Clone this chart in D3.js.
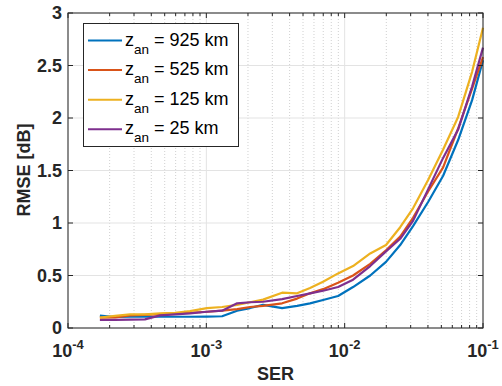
<!DOCTYPE html>
<html>
<head>
<meta charset="utf-8">
<script src="https://cdn.jsdelivr.net/npm/d3@7"></script>
<style>
  html, body { margin: 0; padding: 0; background: #fff; }
  svg { display: block; font-family: "Liberation Sans", Arial, Helvetica, sans-serif; }
</style>
</head>
<body>
<svg id="chart" width="502" height="386"></svg>
<script>
// ---- Data ----
const ser = [1.70e-4, 2.19e-4, 2.81e-4, 3.60e-4, 4.63e-4, 5.94e-4, 7.62e-4, 1.01e-3, 1.30e-3,
             1.67e-3, 2.07e-3, 2.57e-3, 3.53e-3, 4.53e-3, 5.62e-3, 6.98e-3, 8.96e-3, 1.15e-2,
             1.53e-2, 1.99e-2, 2.52e-2, 3.12e-2, 4.01e-2, 5.15e-2, 6.61e-2, 8.34e-2, 1.0e-1];
const rmse925 = [0.117, 0.105, 0.107, 0.107, 0.107, 0.107, 0.107, 0.108, 0.112, 0.165, 0.19, 0.22, 0.19, 0.21,
                 0.235, 0.267, 0.305, 0.39, 0.5, 0.63, 0.79, 0.97, 1.2, 1.45, 1.79, 2.17, 2.55];
const rmse525 = [0.098, 0.1, 0.12, 0.125, 0.133, 0.14, 0.145, 0.155, 0.165, 0.18, 0.2, 0.21, 0.235, 0.28,
                 0.33, 0.37, 0.43, 0.5, 0.61, 0.74, 0.87, 1.05, 1.3, 1.53, 1.9, 2.28, 2.58];
const rmse125 = [0.1, 0.115, 0.13, 0.13, 0.14, 0.145, 0.16, 0.19, 0.2, 0.22, 0.245, 0.27, 0.336, 0.33,
                 0.38, 0.44, 0.52, 0.59, 0.71, 0.79, 0.96, 1.14, 1.41, 1.7, 2.01, 2.44, 2.86];
const rmse25  = [0.076, 0.078, 0.08, 0.082, 0.12, 0.13, 0.14, 0.155, 0.165, 0.235, 0.245, 0.25, 0.275, 0.305,
                 0.33, 0.355, 0.39, 0.46, 0.59, 0.73, 0.85, 1.02, 1.32, 1.62, 1.89, 2.3, 2.67];
const seriesNames = ["925", "525", "125", "25"];
const seriesColors = ["#0072BD", "#D95319", "#EDB120", "#7E2F8E"];
const xTickExps = [-4, -3, -2, -1];
const yTicks = [0, 0.5, 1, 1.5, 2, 2.5, 3];

const allSeries = [rmse925, rmse525, rmse125, rmse25].map((v, i) => ({
  name: seriesNames[i], color: seriesColors[i], values: v.map((y, j) => ({x: ser[j], y}))
}));

// ---- Layout ----
const svg = d3.select("#chart");
const m = {left: 68, right: 483, top: 13, bottom: 328};
const x = d3.scaleLog().domain([1e-4, 1e-1]).range([m.left, m.right]);
const y = d3.scaleLinear().domain([0, 3]).range([m.bottom, m.top]);

// minor grid (x)
const minor = [];
for (let e = -4; e < -1; e++) for (let k = 2; k <= 9; k++) minor.push(k * Math.pow(10, e));
svg.append("g").selectAll("line").data(minor).join("line")
  .attr("x1", d => x(d)).attr("x2", d => x(d))
  .attr("y1", m.top).attr("y2", m.bottom)
  .attr("stroke", "#d0d0d0").attr("stroke-width", 1).attr("stroke-dasharray", "1,2");

// major grid
svg.append("g").selectAll("line").data(xTickExps).join("line")
  .attr("x1", d => x(Math.pow(10, d))).attr("x2", d => x(Math.pow(10, d)))
  .attr("y1", m.top).attr("y2", m.bottom)
  .attr("stroke", "#e3e3e3").attr("stroke-width", 1);
svg.append("g").selectAll("line").data(yTicks).join("line")
  .attr("x1", m.left).attr("x2", m.right)
  .attr("y1", d => y(d)).attr("y2", d => y(d))
  .attr("stroke", "#e3e3e3").attr("stroke-width", 1);

// lines
const line = d3.line().x(d => x(d.x)).y(d => y(d.y));
svg.append("g").selectAll("path").data(allSeries).join("path")
  .attr("d", d => line(d.values))
  .attr("fill", "none").attr("stroke", d => d.color)
  .attr("stroke-width", 2.2).attr("stroke-linejoin", "round");

// axes box
const axisColor = "#262626";
svg.append("rect").attr("x", m.left).attr("y", m.top)
  .attr("width", m.right - m.left).attr("height", m.bottom - m.top)
  .attr("fill", "none").attr("stroke", axisColor).attr("stroke-width", 1);

// ticks (inside, both sides)
const tl = 5, tlMinor = 3;
const tg = svg.append("g").attr("stroke", axisColor).attr("stroke-width", 1);
xTickExps.forEach(e => {
  const px = x(Math.pow(10, e));
  tg.append("line").attr("x1", px).attr("x2", px).attr("y1", m.bottom).attr("y2", m.bottom - tl);
  tg.append("line").attr("x1", px).attr("x2", px).attr("y1", m.top).attr("y2", m.top + tl);
});
minor.forEach(v => {
  const px = x(v);
  tg.append("line").attr("x1", px).attr("x2", px).attr("y1", m.bottom).attr("y2", m.bottom - tlMinor);
  tg.append("line").attr("x1", px).attr("x2", px).attr("y1", m.top).attr("y2", m.top + tlMinor);
});
yTicks.forEach(v => {
  const py = y(v);
  tg.append("line").attr("x1", m.left).attr("x2", m.left + tl).attr("y1", py).attr("y2", py);
  tg.append("line").attr("x1", m.right).attr("x2", m.right - tl).attr("y1", py).attr("y2", py);
});

// y tick labels
svg.append("g").selectAll("text").data(yTicks).join("text")
  .attr("x", m.left - 6).attr("y", d => y(d)).attr("dy", "0.36em")
  .attr("text-anchor", "end").attr("font-size", 18).attr("font-weight", "bold")
  .attr("fill", axisColor).text(d => d3.format("")(d));

// x tick labels 10^e
xTickExps.forEach(e => {
  const t = svg.append("text").attr("x", x(Math.pow(10, e))).attr("y", 357)
    .attr("text-anchor", "middle").attr("font-size", 18).attr("font-weight", "bold").attr("fill", axisColor);
  t.append("tspan").text("10");
  t.append("tspan").attr("dy", -8).attr("font-size", 13).text(String(e));
});

// axis labels
svg.append("text").attr("x", (m.left + m.right) / 2).attr("y", 380)
  .attr("text-anchor", "middle").attr("font-size", 18).attr("font-weight", "bold")
  .attr("fill", axisColor).text("SER");
svg.append("text").attr("transform", "translate(30,170) rotate(-90)")
  .attr("text-anchor", "middle").attr("font-size", 18).attr("font-weight", "bold")
  .attr("fill", axisColor).text("RMSE [dB]");

// legend
const lg = svg.append("g");
lg.append("rect").attr("x", 83.5).attr("y", 23.5).attr("width", 155).attr("height", 123)
  .attr("fill", "#fff").attr("stroke", axisColor).attr("stroke-width", 1);
allSeries.forEach((s, i) => {
  const cy = 40.5 + i * 29.6;
  lg.append("line").attr("x1", 88).attr("x2", 122).attr("y1", cy).attr("y2", cy)
    .attr("stroke", s.color).attr("stroke-width", 2);
  const t = lg.append("text").attr("x", 125).attr("y", cy + 5)
    .attr("font-size", 18).attr("fill", "#000");
  t.append("tspan").text("z");
  t.append("tspan").attr("dy", 8).attr("font-size", 13.5).text("an");
  t.append("tspan").attr("dy", -8).text(" = " + s.name + " km");
});
</script>
</body>
</html>
